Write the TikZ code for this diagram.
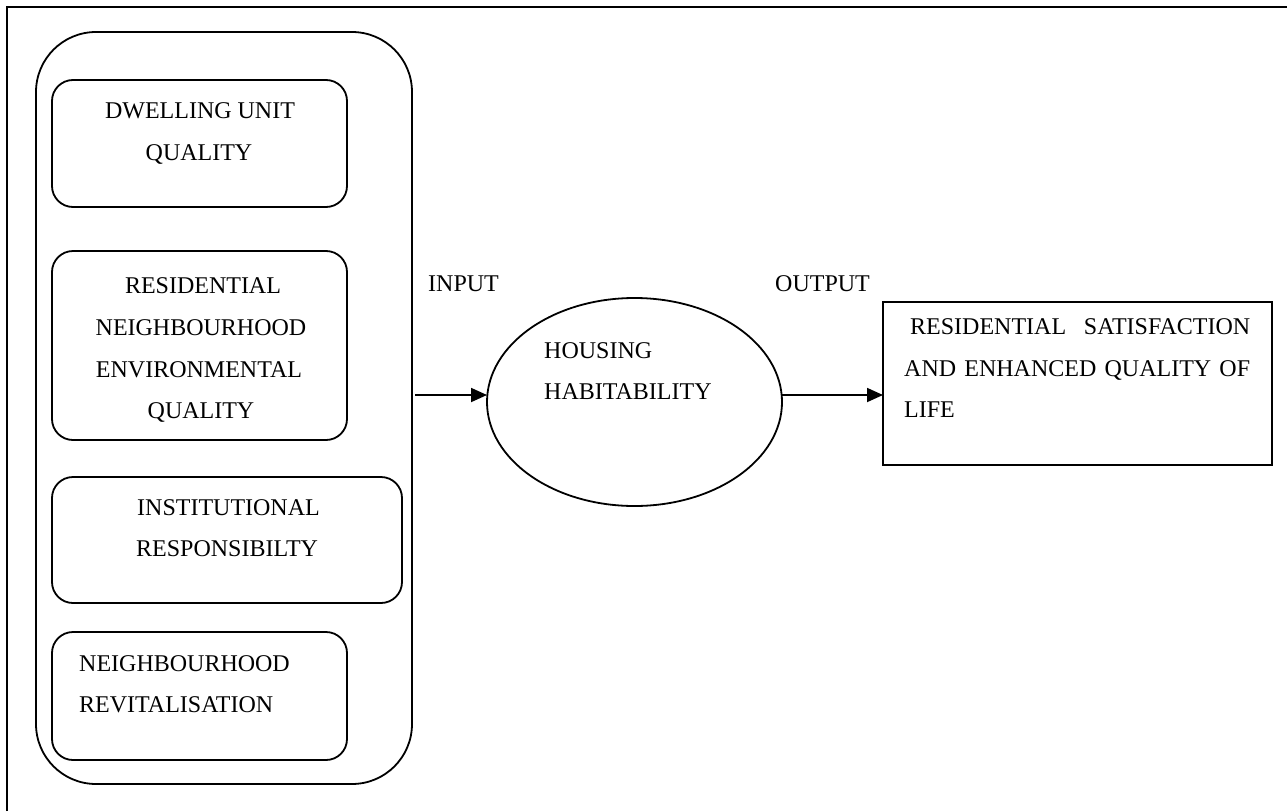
\documentclass[tikz,border=0pt]{standalone}
\usepackage{fontspec}
\setmainfont{Liberation Serif}
\usetikzlibrary{shapes.geometric,arrows.meta}
\tikzset{
  box/.style={draw, line width=1.8pt, rounded corners=21pt, anchor=north west, inner sep=0pt, outer sep=0pt},
  txt/.style={font=\fontsize{24}{28}\selectfont, inner sep=0pt, anchor=base},
  ltxt/.style={txt, anchor=base west},
  arr/.style={line width=1.8pt, -{Triangle[length=16pt,width=14pt]}},
}
\begin{document}
\begin{tikzpicture}[x=1pt,y=-1pt]
\useasboundingbox (0,0) rectangle (1287,811);
% partial frame
\draw[line width=2.5pt] (7,811) -- (7,7) -- (1287,7);
% outer rounded container
\node[box, rounded corners=60pt, minimum width=376pt, minimum height=752pt] (outer) at (36,32) {};
% inner boxes
\node[box, minimum width=295pt, minimum height=127pt] (b1) at (52,80) {};
\node[box, minimum width=295pt, minimum height=189pt] (b2) at (52,251) {};
\node[box, minimum width=350pt, minimum height=126pt] (b3) at (52,477) {};
\node[box, minimum width=295pt, minimum height=128pt] (b4) at (52,632) {};
% texts
\node[txt] (t1a) at (200,118) {DWELLING UNIT};
\node[txt] (t1b) at (199,160) {QUALITY};
\node[txt] (t2a) at (203,293) {RESIDENTIAL};
\node[txt] (t2b) at (201,335) {NEIGHBOURHOOD};
\node[txt] (t2c) at (199,377) {ENVIRONMENTAL};
\node[txt] (t2d) at (201,418) {QUALITY};
\node[ltxt] (t3a) at (137,515) {INSTITUTIONAL};
\node[ltxt] (t3b) at (136,556) {RESPONSIBILTY};
\node[ltxt] (t4a) at (79,671) {NEIGHBOURHOOD};
\node[ltxt] (t4b) at (79,712) {REVITALISATION};
% ellipse
\node[draw, ellipse, line width=1.8pt, minimum width=295pt, minimum height=208pt, inner sep=0pt, outer sep=0pt] (hab) at (634.5,402) {};
\node[ltxt] (h1) at (544,358) {HOUSING};
\node[ltxt] (h2) at (544,399) {HABITABILITY};
% labels
\node[ltxt] (inp) at (428,291) {INPUT};
\node[ltxt] (outp) at (775,291) {OUTPUT};
% result box
\node[draw, line width=2pt, anchor=north west, inner sep=0pt, outer sep=0pt, minimum width=389pt, minimum height=163pt] (res) at (883,302) {};
\node[ltxt] (r1) at (910,334) {\makebox[340pt][s]{RESIDENTIAL SATISFACTION}};
\node[ltxt] (r2) at (904,376) {\makebox[346pt][s]{AND ENHANCED QUALITY OF}};
\node[ltxt] (r3) at (904,417) {LIFE};
% arrows
\coordinate (i0) at (415,395);
\coordinate (o0) at (800,395);
\draw[arr] (i0) -- (i0 -| hab.west);
\draw[arr] (hab.east |- o0) -- (o0 -| res.west);
\end{tikzpicture}
\end{document}
